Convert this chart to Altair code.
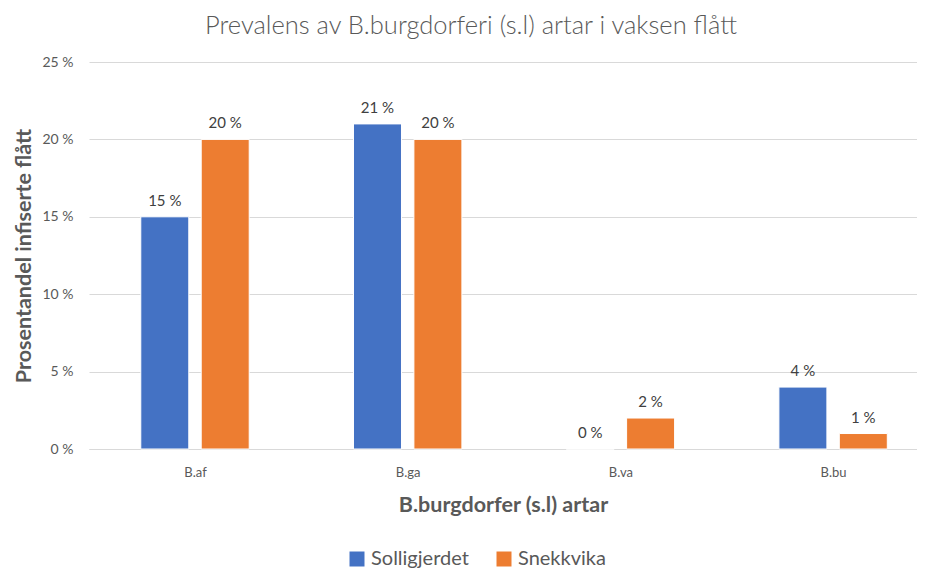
import json
import altair as alt
import pandas as pd

categories = ["B.af", "B.ga", "B.va", "B.bu"]
series = ["Solligjerdet", "Snekkvika"]
solligjerdet = [15, 21, 0, 4]
snekkvika = [20, 20, 2, 1]
colors = ["#4472C4", "#ED7D31"]
y_ticks = [0, 5, 10, 15, 20, 25]

rows = []
for i, (c, a, b) in enumerate(zip(categories, solligjerdet, snekkvika)):
    rows.append({"idx": i, "cat": c, "series": series[0], "value": a})
    rows.append({"idx": i, "cat": c, "series": series[1], "value": b})
df = pd.DataFrame(rows)

font = "Lato"
gray = "#595959"
W, H = 828, 387
step = 212.7
d0 = -106 / step
d1 = d0 + W / step

cat_expr = json.dumps(categories) + "[round(datum.value)]"

x = alt.X("pos:Q", scale=alt.Scale(domain=[d0, d1], nice=False, zero=False, padding=0),
          axis=alt.Axis(title="B.burgdorfer (s.l) artar", values=[0, 1, 2, 3],
                        labelExpr=cat_expr, ticks=False, grid=False,
                        labelPadding=17, titlePadding=15, labelFontSize=13,
                        labelColor=gray, titleColor=gray, titleFontSize=21.5,
                        titleFontWeight="bold", domainColor="#d9d9d9", labelFont=font,
                        titleFont=font, labelFlush=False))
y = alt.Y("value:Q", scale=alt.Scale(domain=[0, 25], padding=0),
          axis=alt.Axis(title="Prosentandel infiserte flått", values=y_ticks,
                        labelExpr="datum.value + ' %'", ticks=False, domain=False,
                        labelPadding=16, titlePadding=6, labelFontSize=14,
                        labelColor=gray, titleColor=gray, titleFontSize=21.5,
                        titleFontWeight="bold", gridColor="#d9d9d9", labelFont=font,
                        titleFont=font))

base = alt.Chart(df).transform_calculate(
    pos="datum.idx + (datum.series == '%s' ? -0.142 : 0.142)" % series[0],
    label="datum.value + ' %'"
)

bars = base.mark_bar(size=48, stroke="white", strokeWidth=1).encode(
    x=x, y=y,
    color=alt.Color("series:N", sort=series,
                    scale=alt.Scale(domain=series, range=colors),
                    legend=alt.Legend(title=None, orient="none", direction="horizontal",
                                      legendX=258, legendY=487,
                                      symbolType="square", symbolSize=225,
                                      labelFontSize=20, labelColor=gray, labelFont=font,
                                      columnPadding=25, labelOffset=4,
                                      symbolStrokeWidth=0))
)
labels = base.mark_text(baseline="bottom", dy=-8, fontSize=15, color="#404040",
                        font=font).encode(
    x=x, y=y, text=alt.Text("label:N")
)

chart = alt.layer(bars, labels).properties(
    width=W, height=H,
    title=alt.Title("Prevalens av B.burgdorferi (s.l) artar i vaksen flått",
                    fontSize=25.5, font=font, fontWeight=300, color=gray, offset=16,
                    dx=-32),
    padding={"left": 5, "top": 5, "right": 0, "bottom": 0}
).configure_view(stroke=None)

chart.save("out.html", embed_options={"renderer": "svg", "actions": False})
